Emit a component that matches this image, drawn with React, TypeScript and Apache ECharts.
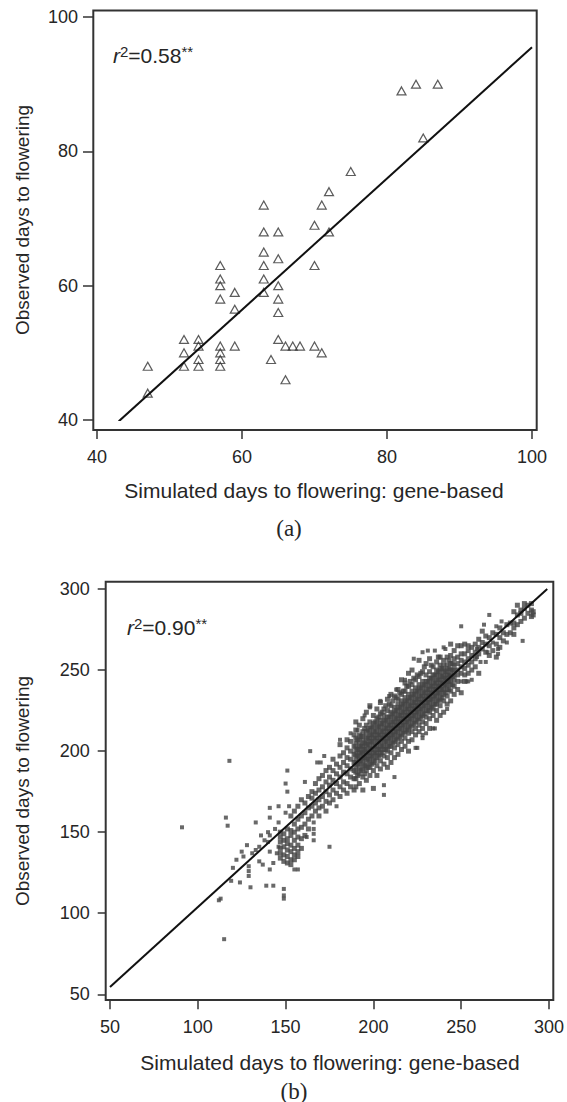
import React, { useEffect, useRef } from "react";
import * as echarts from "echarts";

// ---------- Panel (a) ----------
const aTicks = [40, 60, 80, 100];
const aPoints: [number, number][] = [
  [47, 48], [47, 44],
  [52, 52], [52, 50], [52, 48],
  [54, 52], [54, 51], [54, 49], [54, 48],
  [57, 63], [57, 61], [57, 60], [57, 58], [57, 51], [57, 50], [57, 49], [57, 48],
  [59, 59], [59, 56.5], [59, 51],
  [63, 72], [63, 68], [63, 65], [63, 63], [63, 61], [63, 59],
  [64, 49],
  [65, 68], [65, 64], [65, 60], [65, 58], [65, 56], [65, 52],
  [66, 51], [66, 46], [67, 51], [68, 51],
  [70, 69], [70, 63], [70, 51],
  [71, 72], [71, 50],
  [72, 74], [72, 68],
  [75, 77],
  [82, 89], [84, 90], [85, 82], [87, 90],
];
const aFitX = [43, 100];
const aFitY = [39.8, 95.5];
const aStat = "0.58";

// ---------- Panel (b) ----------
const bTicks = [50, 100, 150, 200, 250, 300];
const bOutliers: [number, number][] = [
  [91, 153], [115, 84], [112, 108], [113, 109], [116, 159], [117, 154], [118, 194],
  [119, 120], [124, 119], [130, 116], [139, 117], [143, 117], [149, 115], [149, 111],
  [149, 109], [157, 127], [155, 127], [175, 141], [166, 145], [166, 149], [166, 152],
  [166, 156], [141, 165], [141, 159], [146, 166], [151, 188], [150, 180], [151, 175],
  [161, 181], [164, 200], [168, 193], [170, 193], [172, 197], [179, 166], [206, 179],
  [206, 173], [212, 184], [224, 202], [228, 208], [234, 214], [242, 226], [253, 243],
  [285, 268], [250, 277], [266, 284], [223, 257],
];
const bLowerCloud: [number, number][] = [
  [125, 138], [128, 142], [133, 139], [135, 141], [129, 129], [129, 126], [129, 123],
  [135, 132], [137, 130], [141, 127], [133, 156], [140, 150], [141, 148], [140, 144],
  [141, 138], [143, 131], [152, 166], [150, 162], [162, 147], [122, 133], [126, 135],
  [131, 137], [138, 145], [144, 152], [146, 156], [136, 148], [120, 128], [146, 141],
  [145, 137],
];
const bEdgePoints: [number, number][] = [
  [228, 261], [231, 262], [235, 262], [240, 264], [241, 263], [263, 278], [270, 277],
  [273, 280], [209, 234], [204, 231], [198, 227], [195, 222], [191, 213], [187, 211],
  [181, 207], [218, 244], [213, 238], [254, 243], [256, 244], [250, 243], [235, 214],
  [228, 210], [230, 211], [225, 202], [264, 255], [261, 255], [259, 263], [259, 258],
  [265, 261], [271, 263], [271, 260], [268, 267], [276, 267],
];
const bColumns: [number, number[]][] = [
  [147, [134, 137, 140, 144, 147, 150]],
  [149, [132, 136, 141, 145, 149]],
  [151, [131, 135, 139, 143, 146, 152]],
  [153, [130, 133, 138, 142, 148, 151, 160]],
  [155, [133, 136, 140, 145, 150, 155, 163]],
  [157, [135, 138, 142, 147, 152, 158, 166]],
  [159, [140, 146, 153, 160, 170]],
  [161, [148, 155, 162, 168]],
  [163, [152, 158, 165, 172]],
  [165, [160, 166, 171, 175]],
  [167, [163, 168, 174, 180]],
  [169, [160, 165, 170, 176, 183]],
  [171, [166, 172, 178, 185]],
  [173, [163, 169, 175, 181, 188]],
  [175, [168, 173, 179, 184, 190]],
  [177, [170, 176, 182, 188, 195]],
  [179, [174, 180, 186, 192]],
  [181, [172, 178, 184, 190, 197, 204]],
  [183, [176, 181, 187, 193, 199]],
  [185, [174, 180, 186, 191, 196, 202, 207]],
  [187, [178, 184, 189, 195, 200, 206]],
  [189, [176, 183, 188, 193, 198, 203, 210]],
  [190, [178, 183, 187, 190, 193, 196, 199, 202, 205, 208, 213, 218]],
  [191, [185, 192, 197, 201, 207]],
  [192, [180, 186, 189, 192, 195, 198, 201, 204, 207, 210, 216]],
  [193, [188, 194, 199, 203, 209]],
  [194, [176, 184, 189, 192, 195, 198, 200, 203, 206, 209, 212, 220]],
  [195, [186, 191, 196, 201, 205, 214]],
  [196, [182, 188, 191, 194, 197, 200, 203, 206, 209, 212, 216, 224]],
  [197, [190, 195, 199, 204, 208, 213]],
  [198, [185, 190, 193, 196, 199, 202, 205, 208, 211, 214, 218, 228]],
  [199, [192, 197, 201, 206, 210, 215]],
  [200, [177, 188, 193, 196, 199, 202, 205, 208, 211, 214, 217, 222]],
  [201, [194, 199, 203, 208, 212, 218]],
  [202, [185, 191, 196, 199, 202, 205, 208, 211, 214, 217, 220, 226]],
  [203, [197, 201, 206, 210, 215, 221]],
  [204, [189, 194, 198, 201, 204, 207, 210, 213, 216, 219, 223, 230]],
  [205, [199, 203, 208, 212, 217, 224]],
  [206, [192, 197, 201, 204, 207, 210, 213, 216, 219, 222, 226]],
  [207, [201, 206, 210, 214, 219, 228]],
  [208, [190, 196, 200, 203, 206, 209, 212, 215, 218, 221, 225, 232]],
  [209, [203, 208, 212, 216, 221, 229]],
  [210, [193, 199, 203, 206, 209, 212, 215, 218, 221, 224, 228, 235]],
  [211, [205, 210, 214, 218, 223, 231]],
  [212, [196, 202, 206, 209, 212, 215, 218, 221, 224, 227, 234]],
  [213, [207, 212, 216, 220, 225, 233]],
  [214, [198, 204, 208, 211, 214, 217, 220, 223, 226, 229, 232, 238]],
  [215, [209, 214, 218, 222, 227, 236]],
  [216, [201, 206, 210, 213, 216, 219, 222, 225, 228, 231, 235, 244]],
  [217, [211, 216, 220, 224, 229, 237]],
  [218, [203, 208, 212, 215, 218, 221, 224, 227, 230, 233, 237, 242]],
  [219, [213, 218, 222, 226, 231, 240]],
  [220, [200, 206, 211, 214, 217, 220, 223, 226, 229, 232, 235, 240, 248]],
  [221, [215, 220, 224, 228, 233, 243]],
  [222, [207, 212, 216, 219, 222, 225, 228, 231, 234, 237, 241, 250]],
  [223, [217, 222, 226, 230, 235, 245]],
  [224, [210, 214, 218, 221, 224, 227, 230, 233, 236, 239, 244]],
  [225, [219, 224, 228, 232, 237, 247]],
  [226, [212, 216, 220, 223, 226, 229, 232, 235, 238, 241, 246, 256]],
  [227, [221, 226, 230, 234, 239, 248]],
  [228, [214, 218, 222, 225, 228, 231, 234, 237, 240, 243, 249]],
  [229, [223, 228, 232, 236, 241, 252]],
  [230, [217, 221, 225, 228, 231, 234, 237, 240, 243, 247, 254]],
  [231, [225, 230, 234, 238, 243]],
  [232, [214, 220, 224, 227, 230, 233, 236, 239, 242, 245, 249, 257]],
  [233, [227, 232, 236, 240, 245, 253]],
  [234, [222, 226, 229, 232, 235, 238, 241, 244, 247, 252]],
  [235, [229, 234, 238, 242, 247]],
  [236, [219, 225, 229, 232, 235, 238, 241, 244, 247, 250, 255]],
  [237, [231, 236, 240, 244, 249, 258]],
  [238, [222, 228, 232, 235, 238, 241, 244, 247, 250, 253, 258]],
  [239, [233, 238, 242, 246, 251]],
  [240, [224, 231, 235, 238, 241, 244, 247, 250, 253, 256]],
  [241, [236, 241, 245, 249]],
  [242, [229, 234, 238, 241, 244, 247, 250, 253, 258]],
  [243, [238, 243, 247, 251, 256]],
  [244, [231, 237, 241, 244, 247, 250, 254, 259, 266]],
  [245, [241, 246, 250, 254]],
  [246, [235, 240, 244, 247, 250, 253, 257, 262]],
  [248, [238, 243, 247, 250, 254, 258, 265]],
  [250, [236, 248, 252, 256, 260, 265]],
  [252, [243, 247, 251, 255, 260, 266]],
  [254, [248, 253, 257, 262, 265]],
  [256, [250, 255, 259, 264]],
  [258, [252, 257, 261, 266]],
  [260, [248, 260, 264, 269]],
  [262, [263, 267, 274]],
  [264, [261, 266, 271]],
  [266, [259, 265, 270]],
  [268, [262, 273]],
  [270, [258, 266, 272]],
  [272, [264, 270, 276]],
  [274, [268, 273]],
  [276, [272, 278]],
  [278, [273, 279]],
  [280, [272, 276, 279, 286]],
  [282, [278, 284, 290]],
  [284, [280, 285, 287]],
  [286, [282, 288, 291]],
  [288, [285, 290]],
  [290, [283, 287, 291]],
  [291, [284, 286]],
];
const bFitX = [50, 299];
const bFitY = [54.5, 300];
const bStat = "0.90";

const xTitle = "Simulated days to flowering: gene-based";
const yTitle = "Observed days to flowering";

const SANS = "'Liberation Sans', Arial, Helvetica, sans-serif";
const SERIF = "'Liberation Serif', 'Times New Roman', serif";
const INK = "#262626";

function statText(x: number, y: number, value: string) {
  return {
    type: "text",
    x,
    y,
    silent: true,
    style: {
      text: `{i|r}{s|2}{n|=${value}}{s|**}`,
      align: "left",
      verticalAlign: "middle",
      fill: INK,
      rich: {
        i: { fontStyle: "italic", fontSize: 21, fontFamily: SANS, lineHeight: 22, fill: INK },
        n: { fontSize: 21, fontFamily: SANS, lineHeight: 22, fill: INK },
        s: { fontSize: 15, fontFamily: SANS, lineHeight: 15, verticalAlign: "top", fill: INK },
      },
    },
  };
}

function plainText(x: number, y: number, text: string, size: number, family: string, rotation = 0) {
  return {
    type: "text",
    x,
    y,
    rotation,
    silent: true,
    style: { text, align: "center", verticalAlign: "middle", fontSize: size, fontFamily: family, fill: INK },
  };
}

function frame(x: number, y: number, w: number, h: number) {
  return {
    type: "rect",
    silent: true,
    z: 10,
    shape: { x, y, width: w, height: h },
    style: { fill: "none", stroke: "#333", lineWidth: 2 },
  };
}

function axisCommon(ticks: number[], offset: number, tickLen: number, margin: number, gridIndex: number) {
  return {
    type: "value",
    gridIndex,
    min: ticks[0],
    max: ticks[ticks.length - 1],
    interval: ticks[1] - ticks[0],
    offset,
    axisLine: { show: false },
    axisTick: { show: true, length: tickLen, lineStyle: { color: "#333", width: 1.5 } },
    axisLabel: { fontSize: 18, fontFamily: SANS, color: INK, margin },
    splitLine: { show: false },
  };
}

export default function App() {
  const ref = useRef<HTMLDivElement>(null);
  useEffect(() => {
    if (!ref.current) return;
    const chart = echarts.init(ref.current, null, { renderer: "svg" });
    const bSparse: [number, number][] = [...bOutliers, ...bLowerCloud, ...bEdgePoints];
    const bDense: [number, number][] = bColumns.flatMap(([x, ys]) =>
      ys.map((y) => [x, y] as [number, number])
    );
    const option = {
      animation: false,
      backgroundColor: "#fff",
      grid: [
        { left: 97, right: 35, top: 17, bottom: 682 },
        { left: 110, right: 18, top: 589, bottom: 107.7 },
      ],
      xAxis: [axisCommon(aTicks, 10, 9, 18, 0), axisCommon(bTicks, 6, 9, 18, 1)],
      yAxis: [axisCommon(aTicks, 4, 10, 15, 0), axisCommon(bTicks, 4.3, 8, 16, 1)],
      series: [
        {
          type: "scatter",
          xAxisIndex: 0,
          yAxisIndex: 0,
          data: aPoints,
          symbol: "triangle",
          symbolSize: [9, 8],
          itemStyle: { color: "rgba(255,255,255,0)", borderColor: "#333", borderWidth: 1.2 },
          z: 3,
        },
        {
          type: "line",
          xAxisIndex: 0,
          yAxisIndex: 0,
          data: aFitX.map((x, i) => [x, aFitY[i]]),
          showSymbol: false,
          symbol: "none",
          lineStyle: { color: "#111", width: 2 },
          z: 4,
        },
        {
          type: "scatter",
          xAxisIndex: 1,
          yAxisIndex: 1,
          data: bSparse,
          symbol: "rect",
          symbolSize: 4,
          itemStyle: { color: "#444" },
          z: 3,
        },
        {
          type: "scatter",
          xAxisIndex: 1,
          yAxisIndex: 1,
          data: bDense,
          symbol: "rect",
          symbolSize: 5,
          itemStyle: { color: "#444" },
          z: 3,
        },
        {
          type: "line",
          xAxisIndex: 1,
          yAxisIndex: 1,
          data: bFitX.map((x, i) => [x, bFitY[i]]),
          showSymbol: false,
          symbol: "none",
          lineStyle: { color: "#111", width: 2 },
          z: 4,
        },
      ],
      graphic: [
        frame(93.3, 10.5, 443.4, 419.5),
        frame(105.7, 581.7, 447.6, 418.3),
        statText(113, 55, aStat),
        statText(127, 627, bStat),
        plainText(314, 490, xTitle, 21, SANS),
        plainText(22, 220, yTitle, 19, SANS, Math.PI / 2),
        plainText(289, 528, "(a)", 23, SERIF),
        plainText(330, 1062, xTitle, 21, SANS),
        plainText(22, 791, yTitle, 19, SANS, Math.PI / 2),
        plainText(294, 1091, "(b)", 23, SERIF),
      ],
    };
    chart.setOption(option as any);
    return () => chart.dispose();
  }, []);
  return (
    <div
      ref={ref}
      style={{ position: "fixed", left: 0, top: 0, width: 567, height: 1102, background: "#fff" }}
    />
  );
}
